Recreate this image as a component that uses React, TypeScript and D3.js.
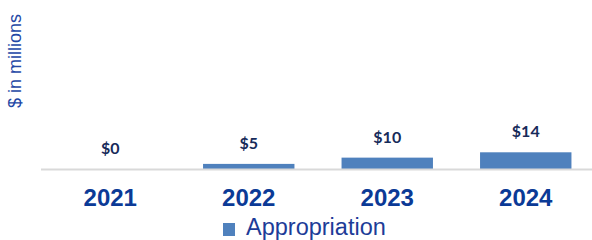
import * as d3 from "d3";

const years = ["2021", "2022", "2023", "2024"];
const appropriation = [0, 4.4, 9.8, 14.4];
const valueLabels = ["$0", "$5", "$10", "$14"];
const seriesName = "Appropriation";
const yTitle = "$ in millions";

export default function App() {
  const width = 592;
  const height = 240;
  const marginLeft = 41;
  const marginRight = -3;
  const baseline = 169;

  const x = d3
    .scaleBand<string>()
    .domain(years)
    .range([marginLeft, width - marginRight])
    .paddingInner(0.34)
    .paddingOuter(0.17);

  const y = d3.scaleLinear().domain([0, 100]).range([baseline, baseline - 116]);

  return (
    <svg
      width={width}
      height={height}
      style={{ position: "absolute", left: 0, top: 0, background: "#fff" }}
      fontFamily="'Liberation Sans', Arial, sans-serif"
    >
      <text
        transform={`translate(21, 61) rotate(-90)`}
        textAnchor="middle"
        fontSize={18}
        fill="#2347a5"
      >
        {yTitle}
      </text>

      {years.map((yr, i) => {
        const v = appropriation[i];
        const bx = x(yr)!;
        const cx = bx + x.bandwidth() / 2;
        return (
          <g key={yr}>
            {v > 0 && (
              <rect
                x={bx}
                y={y(v)}
                width={x.bandwidth()}
                height={baseline - y(v)}
                fill="#4f81bd"
              />
            )}
            <text
              x={cx}
              y={y(v) - 15}
              textAnchor="middle"
              fontFamily="Lato, 'Open Sans', sans-serif"
              fontWeight="bold"
              fontSize={16}
              fill="#172b5a"
            >
              {valueLabels[i]}
            </text>
            <text
              x={cx}
              y={206}
              textAnchor="middle"
              fontWeight="bold"
              fontSize={24}
              fill="#0b3a96"
            >
              {yr}
            </text>
          </g>
        );
      })}

      <line
        x1={marginLeft}
        x2={width}
        y1={baseline + 0.5}
        y2={baseline + 0.5}
        stroke="#d9d9d9"
        strokeWidth={2}
      />

      <rect x={223} y={223} width={12} height={13} fill="#4f81bd" />
      <text x={246} y={235} fontSize={23.5} fill="#1d3c98">
        {seriesName}
      </text>
    </svg>
  );
}
